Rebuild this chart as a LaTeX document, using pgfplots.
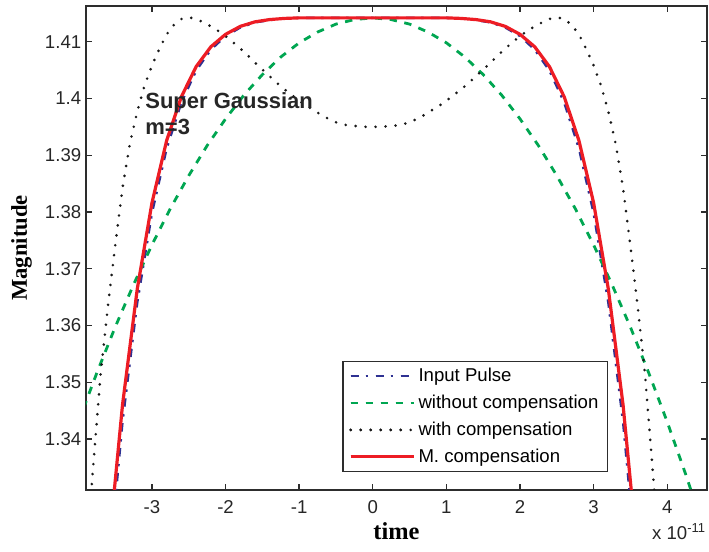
\documentclass[border=0pt]{standalone}
\usepackage{pgfplots}
\pgfplotsset{compat=1.18}
\usepackage{fontspec}
\setmainfont{Liberation Sans}
\newfontfamily\serifbf{Liberation Serif}
\definecolor{mblue}{RGB}{46,49,146}
\definecolor{mgreen}{RGB}{0,166,81}
\definecolor{mred}{RGB}{237,28,36}
\definecolor{axgray}{RGB}{45,45,45}
\newcommand{\tickfont}{\fontsize{9.3}{11}\selectfont}
\begin{document}
\begin{tikzpicture}
\useasboundingbox (0,0) rectangle (354.5pt,276pt);
\begin{axis}[
    at={(43pt,31pt)}, anchor=south west,
    scale only axis, width=310.5pt, height=242pt,
    xmin=-3.896, xmax=4.54,
    ymin=1.33101, ymax=1.41629,
    axis line style={axgray, line width=0.9pt},
    tick style={axgray, line width=0.7pt},
    tick align=inside, major tick length=3.2pt,
    xtick={-3,-2,-1,0,1,2,3,4},
    xticklabels={-3,-2,-1,0,1,2,3,4},
    ytick={1.34,1.35,1.36,1.37,1.38,1.39,1.40,1.41},
    yticklabels={1.34,1.35,1.36,1.37,1.38,1.39,1.4,1.41},
    tick label style={font=\tickfont, text=black!85},
    xticklabel style={anchor=base, yshift=-11.6pt},
    yticklabel style={anchor=east, inner xsep=0pt, xshift=-2.2pt},
    xlabel={time},
    xlabel style={font=\serifbf\bfseries\fontsize{12.2}{14}\selectfont, at={(axis description cs:0.5,-0.1033)}, anchor=base},
    ylabel={Magnitude},
    ylabel style={font=\serifbf\bfseries\fontsize{11.3}{13}\selectfont, at={(axis description cs:-0.1040,0.5)}, anchor=center},
    legend style={at={(axis description cs:0.4129,0.2665)}, anchor=north west,
        draw=axgray, line width=0.7pt, font=\tickfont, fill=white,
        inner xsep=3pt, inner ysep=1.5pt, row sep=2pt,
        nodes={inner sep=1.6pt}},
    legend cell align=left,
    legend image code/.code={\path (0pt,0pt) -- (31.5pt,0pt); \draw[#1] (0pt,0pt) -- (28.5pt,0pt);},
]
% Input pulse
\addplot[mblue, line width=1.2pt, dash pattern=on 4.2pt off 3.3pt on 1.2pt off 3.8pt] coordinates {
(-3.6,1.3150) (-3.4,1.3430) (-3.2,1.3640) (-3.0,1.3798) (-2.8,1.3912) (-2.6,1.3993)
(-2.4,1.4049) (-2.2,1.4086) (-2.0,1.4110) (-1.8,1.4125) (-1.6,1.4134) (-1.4,1.4138)
(-1.2,1.4141) (-1.0,1.4142) (-0.5,1.4142) (0,1.4142) (0.5,1.4142) (1.0,1.4142)
(1.2,1.4141) (1.4,1.4138) (1.6,1.4134) (1.8,1.4125) (2.0,1.4110) (2.2,1.4086)
(2.4,1.4049) (2.6,1.3993) (2.8,1.3912) (3.0,1.3798) (3.2,1.3640) (3.4,1.3430) (3.6,1.3150)};
\addlegendentry{Input Pulse}
% without compensation
\addplot[mgreen, line width=1.4pt, dash pattern=on 3.7pt off 3.8pt] coordinates {
(-4.0,1.3430) (-3.75,1.3516) (-3.5,1.3597) (-3.25,1.3672) (-3.0,1.3742) (-2.75,1.3806)
(-2.5,1.3864) (-2.25,1.3917) (-2.0,1.3964) (-1.75,1.4006) (-1.5,1.4042) (-1.25,1.4073)
(-1.0,1.4098) (-0.75,1.4117) (-0.5,1.4131) (-0.25,1.4139) (0,1.4142) (0.25,1.4139)
(0.5,1.4131) (0.75,1.4117) (1.0,1.4098) (1.25,1.4073) (1.5,1.4042) (1.75,1.4006)
(2.0,1.3964) (2.25,1.3917) (2.5,1.3864) (2.75,1.3806) (3.0,1.3742) (3.25,1.3672)
(3.5,1.3597) (3.75,1.3516) (4.0,1.3430) (4.25,1.3338) (4.5,1.3241)};
\addlegendentry{without compensation}
% with compensation
\addplot[black!90, line width=1.45pt, line cap=round, dash pattern=on 0pt off 5pt] coordinates {
(-3.9,1.3180) (-3.8,1.3349) (-3.7,1.3511) (-3.6,1.3632) (-3.5,1.3740) (-3.4,1.3842)
(-3.3,1.3920) (-3.2,1.3977) (-3.1,1.4023) (-3.0,1.4058) (-2.9,1.4087) (-2.8,1.4113)
(-2.7,1.4130) (-2.6,1.4140) (-2.5,1.4143) (-2.4,1.4140) (-2.3,1.4134) (-2.2,1.4127)
(-2.1,1.4119) (-2.0,1.4110) (-1.9,1.4099) (-1.8,1.4088) (-1.7,1.4076) (-1.6,1.4063)
(-1.5,1.4051) (-1.4,1.4039) (-1.3,1.4027) (-1.2,1.4016) (-1.1,1.4006) (-1.0,1.3996)
(-0.9,1.3987) (-0.8,1.3979) (-0.7,1.3971) (-0.6,1.3964) (-0.5,1.3958) (-0.4,1.3954)
(-0.3,1.3952) (-0.2,1.3951) (-0.1,1.3950) (0,1.3950) (0.1,1.3950) (0.2,1.3951)
(0.3,1.3952) (0.4,1.3954) (0.5,1.3958) (0.6,1.3964) (0.7,1.3971) (0.8,1.3979)
(0.9,1.3987) (1.0,1.3996) (1.1,1.4006) (1.2,1.4016) (1.3,1.4027) (1.4,1.4039)
(1.5,1.4051) (1.6,1.4063) (1.7,1.4076) (1.8,1.4088) (1.9,1.4099) (2.0,1.4110)
(2.1,1.4119) (2.2,1.4127) (2.3,1.4134) (2.4,1.4140) (2.5,1.4143) (2.6,1.4140)
(2.7,1.4130) (2.8,1.4113) (2.9,1.4087) (3.0,1.4058) (3.1,1.4023) (3.2,1.3977)
(3.3,1.3920) (3.4,1.3842) (3.5,1.3740) (3.6,1.3632) (3.7,1.3511) (3.8,1.3349) (3.9,1.3180)};
\addlegendentry{with compensation}
% M. compensation
\addplot[mred, line width=1.6pt] coordinates {
(-3.6,1.3190) (-3.4,1.3460) (-3.2,1.3664) (-3.0,1.3816) (-2.8,1.3926) (-2.6,1.4003)
(-2.4,1.4056) (-2.2,1.4091) (-2.0,1.4113) (-1.8,1.4127) (-1.6,1.4135) (-1.4,1.4139)
(-1.2,1.4141) (-1.0,1.4142) (-0.5,1.4142) (0,1.4142) (0.5,1.4142) (1.0,1.4142)
(1.2,1.4141) (1.4,1.4139) (1.6,1.4135) (1.8,1.4127) (2.0,1.4113) (2.2,1.4091)
(2.4,1.4056) (2.6,1.4003) (2.8,1.3926) (3.0,1.3816) (3.2,1.3664) (3.4,1.3460) (3.6,1.3190)};
\addlegendentry{M. compensation}
\node[anchor=base west, inner sep=0pt, font=\bfseries\fontsize{11}{13}\selectfont, text=black!85] at (axis cs:-3.095,1.3983) {Super Gaussian};
\node[anchor=base west, inner sep=0pt, font=\bfseries\fontsize{11}{13}\selectfont, text=black!85] at (axis cs:-3.095,1.3936) {m=3};
\end{axis}
\node[anchor=base west, inner sep=0pt, font=\tickfont, text=black!85] at (325.9pt,6pt) {x 10\textsuperscript{-11}};
\end{tikzpicture}
\end{document}
